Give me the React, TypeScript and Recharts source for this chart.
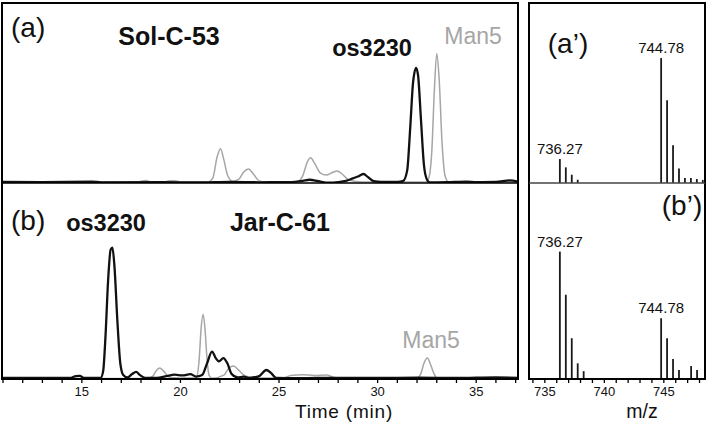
import React from 'react';
import { LineChart, Line, XAxis, YAxis, BarChart, Bar, LabelList } from 'recharts';

// ---------- tick values ----------
const timeTicks = [11, 12, 13, 14, 15, 16, 17, 18, 19, 20, 21, 22, 23, 24, 25, 26, 27, 28, 29, 30, 31, 32, 33, 34, 35, 36, 37];
const timeTickLabels = [15, 20, 25, 30, 35];
const mzTicks = [734, 735, 736, 737, 738, 739, 740, 741, 742, 743, 744, 745, 746, 747, 748];
const mzTickLabels = [735, 740, 745];
const labelledPeaks = [736.27, 744.78];

// ---------- chromatogram (a) Sol-C-53 : [time, intensity] ----------
const solMan5Ref: [number, number][] = [
  [11, 0.5], [17.8, 0.5], [18.0, 1.0], [18.25, 1.4], [18.5, 0.7], [19.2, 0.6], [19.45, 1.3], [19.7, 1.3], [20.0, 0.6],
  [21.4, 0.6], [21.65, 3], [21.85, 14], [22.03, 19], [22.2, 13], [22.4, 4], [22.65, 1], [22.95, 2], [23.2, 6], [23.45, 7.8],
  [23.7, 5], [24.0, 1.2], [24.4, 0.5], [25.9, 0.6], [26.2, 4], [26.45, 12], [26.6, 14], [26.8, 11], [27.1, 5.5], [27.4, 4.4],
  [27.7, 5.8], [27.95, 6.7], [28.2, 5], [28.5, 2], [28.9, 0.8], [29.5, 0.5], [32.45, 0.5], [32.6, 3], [32.75, 18],
  [32.88, 52], [33.0, 72], [33.12, 58], [33.27, 22], [33.42, 4], [33.6, 0.6], [37.12, 0.5],
];
const solOs3230: [number, number][] = [
  [11, 0.6], [13, 0.5], [15.5, 0.7], [16, 0.4], [19, 0.5], [21, 0.3], [22.5, 0.6], [24, 0.4], [25.5, 0.5], [26.2, 1.2],
  [26.55, 1.8], [27.0, 1.0], [27.5, 0.2], [28.0, 0.5], [28.4, 1.2], [28.75, 2.6], [29.0, 3.6], [29.28, 5], [29.5, 3.4],
  [29.8, 1], [30.2, 0.6], [31.0, 0.6], [31.3, 1.2], [31.5, 7], [31.65, 30], [31.8, 56], [31.95, 64], [32.05, 60],
  [32.2, 35], [32.35, 10], [32.5, 2], [32.65, 0.4], [33.5, 0.5], [34.5, 0.8], [35, 0.5], [36, 0.6], [36.7, 1.5], [37.12, 0.8],
];

// ---------- chromatogram (b) Jar-C-61 ----------
const jarMan5Ref: [number, number][] = [
  [11, 0.3], [18.3, 0.3], [18.6, 1.5], [18.8, 4.6], [18.95, 5.6], [19.15, 4], [19.45, 0.8], [20.5, 0.5], [20.8, 0.6],
  [20.95, 10], [21.05, 26], [21.15, 33], [21.25, 25], [21.35, 10], [21.45, 2], [21.6, 0.4], [22.2, 2], [22.45, 5.5],
  [22.7, 6.6], [22.95, 4.5], [23.3, 1.5], [23.8, 0.5], [25.2, 0.5], [25.6, 1.8], [26.2, 2.2], [26.8, 1.8], [27.4, 2],
  [27.8, 0.8], [28.5, 0.3], [32.0, 0.3], [32.2, 3], [32.35, 8], [32.52, 10.7], [32.7, 7], [32.85, 3], [33.0, 0.5], [37.12, 0.3],
];
const jarOs3230: [number, number][] = [
  [11, 0.5], [14.4, 0.5], [14.7, 1.5], [14.9, 1.6], [15.1, 0.5], [15.95, 0.5], [16.08, 4], [16.2, 22], [16.33, 50],
  [16.46, 66], [16.55, 67], [16.65, 58], [16.8, 30], [16.95, 8], [17.1, 2], [17.3, 0.8], [17.55, 2.5], [17.75, 3.6],
  [17.95, 2], [18.2, 0.6], [18.8, 0.5], [19.3, 1.5], [19.7, 2.2], [20.1, 1.8], [20.5, 2.5], [20.8, 1.2], [21.1, 2],
  [21.35, 8], [21.6, 14], [21.8, 10.5], [21.95, 9], [22.18, 10.7], [22.38, 8], [22.6, 2.5], [22.9, 0.8], [23.2, 1.2],
  [23.5, 0.6], [24.0, 1.5], [24.35, 4.6], [24.6, 3], [24.85, 0.6], [26, 0.4], [28, 0.6], [30, 0.5], [32, 0.7], [34, 0.5],
  [36, 0.8], [37.12, 0.6],
];

// ---------- mass spectra ----------
const aPrimeMz = [736.27, 736.77, 737.27, 737.77, 744.78, 745.28, 745.78, 746.28, 746.78, 747.28, 747.78, 748.28];
const aPrimeInt = [13.3, 8.7, 4.6, 1.8, 69.4, 46, 21, 8, 2.8, 2.8, 2.2, 1.7];
const bPrimeMz = [736.27, 736.77, 737.27, 737.77, 738.27, 744.78, 745.28, 745.78, 746.28, 747.3, 747.8];
const bPrimeInt = [65, 43, 20.8, 8, 4, 31, 20.8, 10.2, 4.6, 6.6, 4.6];

const toPts = (a: [number, number][]) => a.map(([t, v]) => ({ t, v }));
const toSpec = (mz: number[], it: number[]) =>
  mz.map((m, i) => ({ mz: m, i: it[i], label: labelledPeaks.includes(m) ? m.toFixed(2) : '' }));

const FONT = '"Liberation Sans", Arial, Helvetica, sans-serif';
const GRAY = '#a6a6a6';
const TIME_DOMAIN: [number, number] = [10.95, 37.12];
const MZ_DOMAIN: [number, number] = [733.67, 748.46];

const tickStyle = { fontSize: 13, fill: '#111', fontFamily: FONT };
const peakLabelStyle = { fontSize: 15, fill: '#111', fontFamily: FONT };

export default function App() {
  return (
    <div style={{ position: 'absolute', left: 0, top: 0, width: 709, height: 422, background: '#fff', overflow: 'hidden' }}>
      {/* (a) chromatogram */}
      <div style={{ position: 'absolute', left: 2, top: 3 }}>
        <LineChart width={516} height={180} margin={{ top: 0, right: 0, bottom: 0, left: 0 }}>
          <XAxis type="number" dataKey="t" domain={TIME_DOMAIN} allowDataOverflow hide />
          <YAxis type="number" domain={[0, 100]} allowDataOverflow hide />
          <Line data={toPts(solMan5Ref)} dataKey="v" type="monotone" stroke={GRAY} strokeWidth={1.5} dot={false} isAnimationActive={false} />
          <Line data={toPts(solOs3230)} dataKey="v" type="monotone" stroke="#111" strokeWidth={2.3} dot={false} isAnimationActive={false} />
        </LineChart>
      </div>
      {/* (b) chromatogram */}
      <div style={{ position: 'absolute', left: 2, top: 183 }}>
        <LineChart width={516} height={236} margin={{ top: 0, right: 0, bottom: 0, left: 0 }}>
          <XAxis
            type="number"
            dataKey="t"
            domain={TIME_DOMAIN}
            allowDataOverflow
            ticks={timeTicks}
            interval={0}
            tickFormatter={(v: number) => (timeTickLabels.includes(v) ? String(v) : '')}
            axisLine={{ stroke: '#000', strokeWidth: 2 }}
            tickLine={{ stroke: '#000', strokeWidth: 1.3 }}
            tickSize={4}
            tickMargin={4}
            tick={tickStyle}
            height={40}
          />
          <YAxis type="number" domain={[0, 100]} allowDataOverflow hide />
          <Line data={toPts(jarMan5Ref)} dataKey="v" type="monotone" stroke={GRAY} strokeWidth={1.5} dot={false} isAnimationActive={false} />
          <Line data={toPts(jarOs3230)} dataKey="v" type="monotone" stroke="#111" strokeWidth={2.3} dot={false} isAnimationActive={false} />
        </LineChart>
      </div>
      {/* (a') spectrum */}
      <div style={{ position: 'absolute', left: 529, top: 3 }}>
        <BarChart width={176} height={180} data={toSpec(aPrimeMz, aPrimeInt)} margin={{ top: 0, right: 0, bottom: 0, left: 0 }}>
          <XAxis type="number" dataKey="mz" domain={MZ_DOMAIN} ticks={mzTicks} allowDataOverflow hide />
          <YAxis type="number" domain={[0, 100]} allowDataOverflow hide />
          <Bar dataKey="i" fill="#1a1a1a" barSize={1.8} isAnimationActive={false}>
            <LabelList dataKey="label" position="top" offset={5} style={peakLabelStyle} />
          </Bar>
        </BarChart>
      </div>
      {/* (b') spectrum */}
      <div style={{ position: 'absolute', left: 529, top: 183 }}>
        <BarChart width={176} height={236} data={toSpec(bPrimeMz, bPrimeInt)} margin={{ top: 0, right: 0, bottom: 0, left: 0 }}>
          <XAxis
            type="number"
            dataKey="mz"
            domain={MZ_DOMAIN}
            allowDataOverflow
            ticks={mzTicks}
            interval={0}
            tickFormatter={(v: number) => (mzTickLabels.includes(v) ? String(v) : '')}
            axisLine={{ stroke: '#000', strokeWidth: 2 }}
            tickLine={{ stroke: '#000', strokeWidth: 1.3 }}
            tickSize={4}
            tickMargin={4}
            tick={tickStyle}
            height={40}
          />
          <YAxis type="number" domain={[0, 100]} allowDataOverflow hide />
          <Bar dataKey="i" fill="#1a1a1a" barSize={1.8} isAnimationActive={false}>
            <LabelList dataKey="label" position="top" offset={5} style={peakLabelStyle} />
          </Bar>
        </BarChart>
      </div>
      {/* frames and annotations */}
      <svg width={709} height={422} style={{ position: 'absolute', left: 0, top: 0, pointerEvents: 'none' }}>
        <rect x={2} y={3} width={516} height={376} fill="none" stroke="#000" strokeWidth={2} />
        <line x1={2} y1={183} x2={518} y2={183} stroke="#000" strokeWidth={1.6} />
        <rect x={529} y={3} width={176} height={376} fill="none" stroke="#000" strokeWidth={2} />
        <line x1={529} y1={183} x2={705} y2={183} stroke="#444" strokeWidth={1.6} />
        <g fontFamily={FONT}>
          <text x={11} y={37} fontSize={28} fill="#111">(a)</text>
          <text x={169} y={45} fontSize={25} fontWeight="bold" fill="#111" textAnchor="middle">Sol-C-53</text>
          <text x={372} y={56} fontSize={23.5} fontWeight="bold" fill="#111" textAnchor="middle">os3230</text>
          <text x={473} y={44} fontSize={23} fill={GRAY} textAnchor="middle">Man5</text>
          <text x={11} y={230} fontSize={28} fill="#111">(b)</text>
          <text x={106} y={231} fontSize={23.5} fontWeight="bold" fill="#111" textAnchor="middle">os3230</text>
          <text x={280} y={231} fontSize={25} fontWeight="bold" fill="#111" textAnchor="middle">Jar-C-61</text>
          <text x={431} y={348} fontSize={23} fill={GRAY} textAnchor="middle">Man5</text>
          <text x={568} y={53} fontSize={28} fill="#111" textAnchor="middle">(a’)</text>
          <text x={682} y={215} fontSize={28} fill="#111" textAnchor="middle">(b’)</text>
          <text x={344} y={418} fontSize={19} letterSpacing={0.8} fill="#111" textAnchor="middle">Time (min)</text>
          <text x={642} y={418} fontSize={19.5} fill="#111" textAnchor="middle">m/z</text>
        </g>
      </svg>
    </div>
  );
}
